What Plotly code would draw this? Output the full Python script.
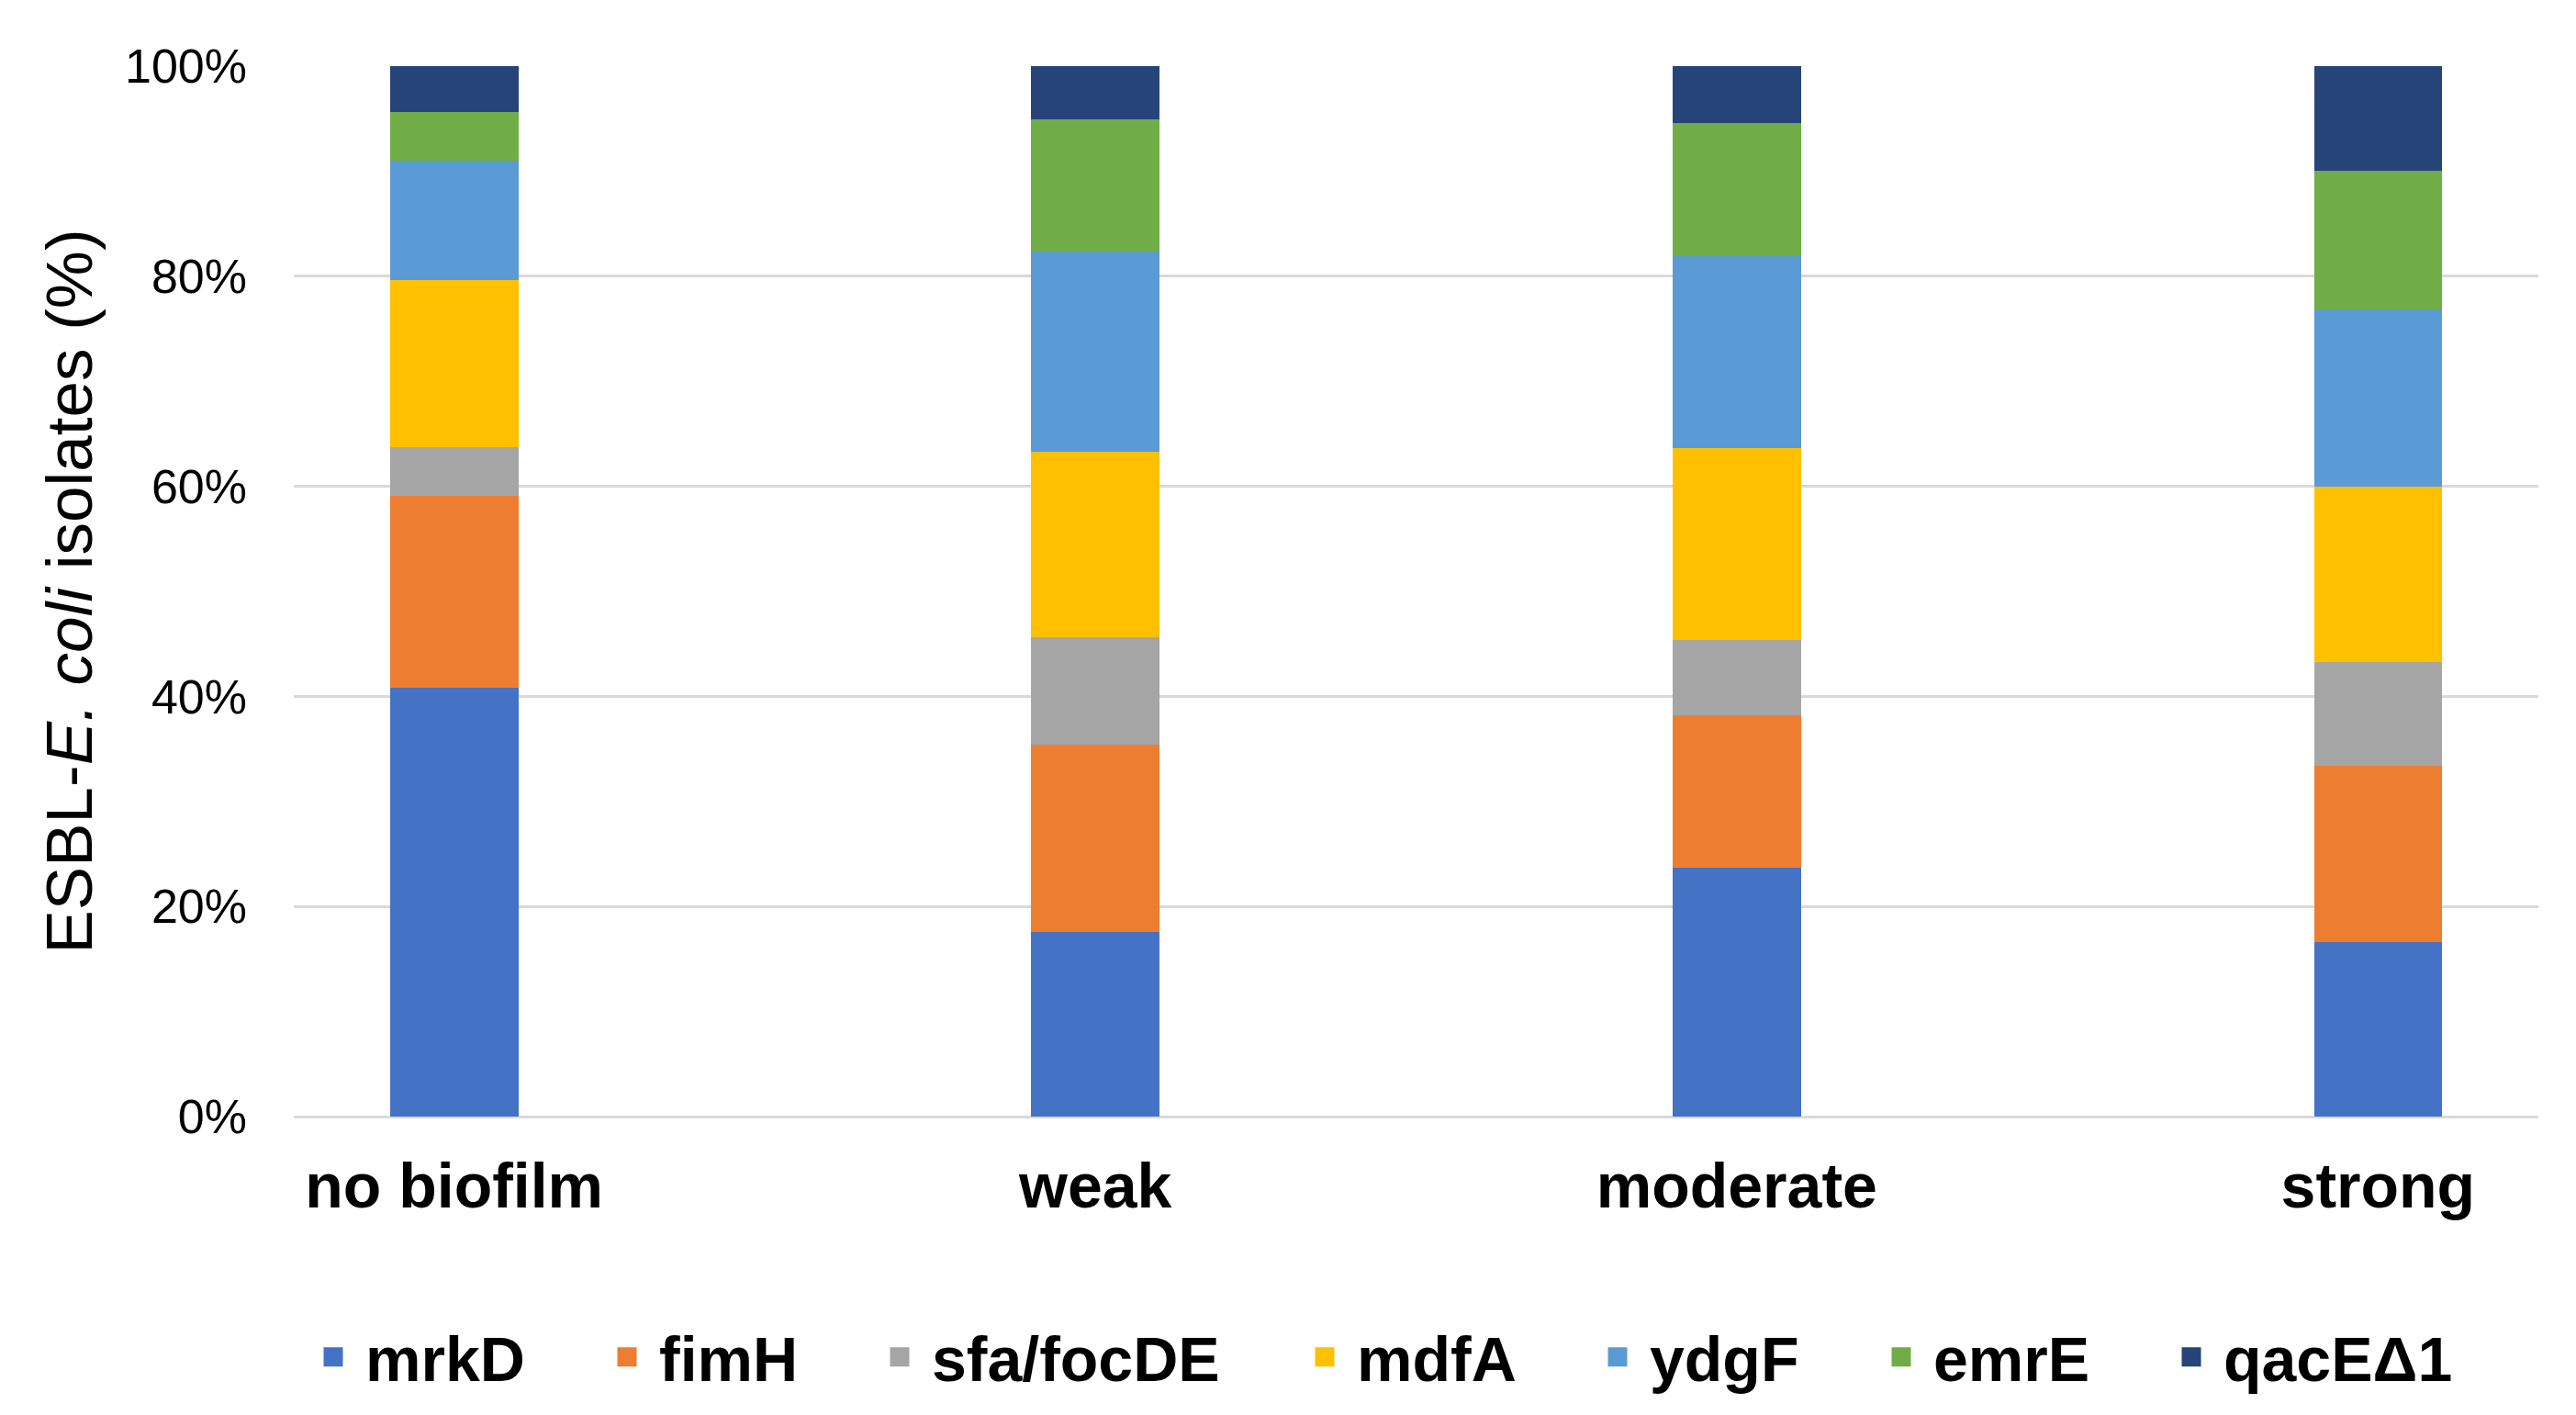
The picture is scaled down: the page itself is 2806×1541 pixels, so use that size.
import plotly.graph_objects as go

categories = ["no biofilm", "weak", "moderate", "strong"]
genes = ["mrkD", "fimH", "sfa/focDE", "mdfA", "ydgF", "emrE", "qacEΔ1"]
mrkD = [40.8, 17.6, 23.7, 16.6]
fimH = [18.3, 17.8, 14.5, 16.8]
sfa_focDE = [4.6, 10.2, 7.2, 9.9]
mdfA = [15.9, 17.7, 18.2, 16.7]
ydgF = [11.4, 19.0, 18.3, 16.8]
emrE = [4.6, 12.6, 12.7, 13.2]
qacE = [4.4, 5.1, 5.4, 10.0]
series = [mrkD, fimH, sfa_focDE, mdfA, ydgF, emrE, qacE]
colors = ["#4472C4", "#ED7D31", "#A5A5A5", "#FFC000", "#5B9BD5", "#70AD47", "#264478"]
yticks = [0, 20, 40, 60, 80, 100]
ytick_labels = ["0%", "20%", "40%", "60%", "80%", "100%"]

FONT = "Liberation Sans, Arial, sans-serif"
W, H = 2806, 1541
ML, MR, MT, MB = 312, 49, 64, 333
PW = W - ML - MR
PH = H - MT - MB

# legend text start positions (px) for each entry
legend_text_px = [390, 710, 1007, 1470, 1789, 2098, 2414]
ITEMW = 60
TEXTGAP = ITEMW + 10

fig = go.Figure()
for name, vals, col in zip(genes, series, colors):
    fig.add_trace(go.Bar(
        x=list(range(len(categories))), y=vals, name=name,
        marker=dict(color=col, line=dict(width=0)),
        width=0.2, showlegend=False,
    ))

legend_layouts = {}
for i, (name, col) in enumerate(zip(genes, colors)):
    key = "legend" if i == 0 else f"legend{i+1}"
    fig.add_trace(go.Scatter(
        x=[None], y=[None], mode="markers", name=name,
        marker=dict(symbol="square", size=16, color=col, line=dict(color=col, width=5)),
        legend=key, showlegend=True, hoverinfo="skip",
    ))
    legend_layouts[key] = dict(
        orientation="h",
        x=(legend_text_px[i] - TEXTGAP - ML) / PW, xanchor="left",
        y=-0.229, yanchor="middle",
        font=dict(size=68, family=FONT, weight="bold", color="black"),
        bgcolor="rgba(0,0,0,0)", borderwidth=0,
        itemwidth=ITEMW,
    )

fig.update_layout(
    barmode="stack",
    width=W, height=H,
    margin=dict(l=ML, r=MR, t=MT, b=MB),
    paper_bgcolor="white", plot_bgcolor="white",
    font=dict(family=FONT, color="black"),
    xaxis=dict(
        range=[-0.25, 3.25], tickmode="array",
        tickvals=list(range(len(categories))), ticktext=categories,
        tickfont=dict(size=68, family=FONT, weight="bold"),
        showgrid=False, zeroline=False, showline=False,
        ticklabelstandoff=30,
    ),
    yaxis=dict(
        range=[0, 100], tickmode="array", tickvals=yticks, ticktext=ytick_labels,
        tickfont=dict(size=52, family=FONT),
        showgrid=True, gridcolor="#d9d9d9", gridwidth=3,
        zeroline=True, zerolinecolor="#d9d9d9", zerolinewidth=3,
        showline=False, ticklabelstandoff=50,
        title=dict(text="ESBL-<i>E. coli</i> isolates (%)", font=dict(size=71, family=FONT), standoff=12),
    ),
    **legend_layouts,
)

fig.write_html("out.html")
